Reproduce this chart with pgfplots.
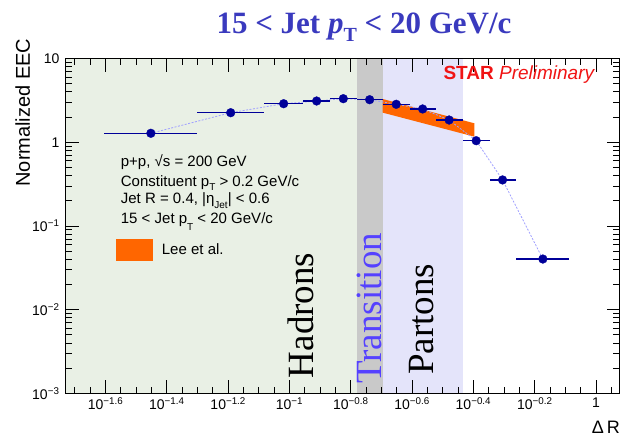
\documentclass[border=0pt]{standalone}
\usepackage{fontspec}
\setmainfont{Liberation Sans}
\newfontfamily\serifface{Liberation Serif}
\usepackage{pgfplots}
\pgfplotsset{compat=1.18}
\usepackage{pgfplotstable}

\definecolor{databl}{RGB}{0,0,153}
\definecolor{linebl}{RGB}{160,160,255}
\definecolor{hadbg}{RGB}{233,240,229}
\definecolor{trbg}{RGB}{201,201,201}
\definecolor{parbg}{RGB}{228,228,250}
\definecolor{leeor}{RGB}{255,102,0}
\definecolor{titlebl}{RGB}{58,58,190}
\definecolor{trtext}{RGB}{85,65,255}
\definecolor{starred}{RGB}{240,20,20}

% EEC points: Delta R (bin log-centre), value, bin half-widths below/above
\pgfplotstableread{
x      y      em     ep
0.0353 1.281  0.0105 0.0148
0.0643 2.257  0.0142 0.0183
0.0957 2.891  0.0131 0.0153
0.1226 3.114  0.0116 0.0129
0.1498 3.319  0.0143 0.0158
0.1826 3.228  0.0170 0.0188
0.2229 2.844  0.0215 0.0237
0.2718 2.500  0.0252 0.0292
0.3317 1.846  0.0307 0.0353
0.4064 1.045  0.0394 0.0436
0.4955 0.355  0.0455 0.0545
0.6706 0.0403 0.1206 0.1474
}\eecdata

\newcommand{\rsub}[2][-0.45em]{\raisebox{#1}{\fontsize{10}{10}\selectfont #2}}

\begin{document}
\begin{tikzpicture}
\useasboundingbox (-66pt,-44.6pt) rectangle (559pt,393.4pt);
\begin{axis}[
  at={(0,0)}, anchor=south west,
  scale only axis, width=554pt, height=334.8pt,
  xmode=log, ymode=log,
  xmin=0.01866, xmax=1.197, ymin=1e-3, ymax=10,
  axis on top,
  axis line style={line width=1pt},
  every tick/.style={black, line width=0.8pt},
  tick align=inside, tick pos=both,
  xticklabel pos=lower, yticklabel pos=left,
  major tick length=13pt, minor tick length=6.5pt,
  xtick={0.025119,0.039811,0.063096,0.1,0.158489,0.251189,0.398107,0.630957,1},
  xticklabels={10\textsuperscript{−1.6},10\textsuperscript{−1.4},10\textsuperscript{−1.2},10\textsuperscript{−1},10\textsuperscript{−0.8},10\textsuperscript{−0.6},10\textsuperscript{−0.4},10\textsuperscript{−0.2},1},
  minor xtick={0.019953,0.022387,0.028184,0.031623,0.035481,0.044668,0.050119,0.056234,0.070795,0.079433,0.089125,0.112202,0.125893,0.141254,0.177828,0.199526,0.223872,0.281838,0.316228,0.354813,0.446684,0.501187,0.562341,0.707946,0.794328,0.891251,1.122018},
  ytick={1e-3,1e-2,0.1,1,10},
  yticklabels={10\textsuperscript{−3},10\textsuperscript{−2},10\textsuperscript{−1},1,10},
  tick label style={font=\fontsize{14}{14}\selectfont},
  xticklabel style={yshift=-1pt},
  yticklabel style={xshift=-3pt},
  ylabel={Normalized EEC},
  ylabel style={font=\fontsize{20}{20}\selectfont, at={(axis description cs:-0.065,1.06)}, anchor=base east, inner sep=0pt},
  xlabel={Δ\,R},
  xlabel style={font=\fontsize{18}{18}\selectfont, at={(axis description cs:1,-0.121)}, anchor=base east, inner sep=0pt},
]
% regions: hadrons, transition, partons
\addplot[fill=hadbg, draw=none, forget plot] coordinates {(0.01866,1e-3) (0.1656,1e-3) (0.1656,10) (0.01866,10)} -- cycle;
\addplot[fill=trbg, draw=none, forget plot] coordinates {(0.1656,1e-3) (0.2014,1e-3) (0.2014,10) (0.1656,10)} -- cycle;
\addplot[fill=parbg, draw=none, forget plot] coordinates {(0.2014,1e-3) (0.367,1e-3) (0.367,10) (0.2014,10)} -- cycle;
% Lee et al. band
\addplot[fill=leeor, draw=none, forget plot] coordinates {(0.2014,3.29) (0.401,1.687) (0.401,1.167) (0.2014,2.26)} -- cycle;
% guide line through the points
\addplot[linebl, line width=0.8pt, dash pattern=on 2pt off 1.5pt, forget plot] table[x=x, y=y] {\eecdata};
% data
\addplot[only marks, mark=*, mark size=4.4pt, color=databl,
  mark options={fill=databl, draw=databl, line width=0.3pt},
  error bars/.cd, x dir=both, x explicit, error mark=none,
  error bar style={line width=1.5pt, databl}]
  table[x=x, y=y, x error minus=em, x error plus=ep] {\eecdata};
\end{axis}

% title
\node[anchor=base, inner sep=0pt, text=titlebl, font=\serifface\bfseries\fontsize{31}{31}\selectfont]
  at (298pt,359.4pt) {15 < Jet \textit{p}\raisebox{-0.25em}{\fontsize{20}{20}\selectfont T} < 20 GeV/c};

% run conditions
\begin{scope}[every node/.style={anchor=base west, inner sep=0pt, font=\fontsize{15}{15}\selectfont}]
\node at (54.7pt,226.7pt) {p+p,\ √s = 200 GeV};
\node at (54.7pt,206.7pt) {Constituent p\rsub[-0.25em]{T} > 0.2 GeV/c};
\node at (54.7pt,189.4pt) {Jet R = 0.4, |η\rsub[-0.3em]{Jet}| < 0.6};
\node at (54.7pt,169.4pt) {15 < Jet p\rsub{T} < 20 GeV/c};
\node at (95.7pt,139.1pt) {Lee et al.};
\end{scope}
\fill[leeor] (50pt,132.7pt) rectangle (86.7pt,154.4pt);

% label
\node[anchor=base west, inner sep=0pt, text=starred, font=\fontsize{19}{19}\selectfont]
  at (377.3pt,314.1pt) {\textbf{STAR} \textit{Preliminary}};

% region names
\begin{scope}[every node/.style={anchor=base west, inner sep=0pt, rotate=90, font=\serifface\fontsize{37}{37}\selectfont}]
\node at (247.3pt,15.1pt) {Hadrons};
\node[text=trtext] at (315.7pt,9.4pt) {Transition};
\node at (367.3pt,18.4pt) {Partons};
\end{scope}
\end{tikzpicture}
\end{document}
